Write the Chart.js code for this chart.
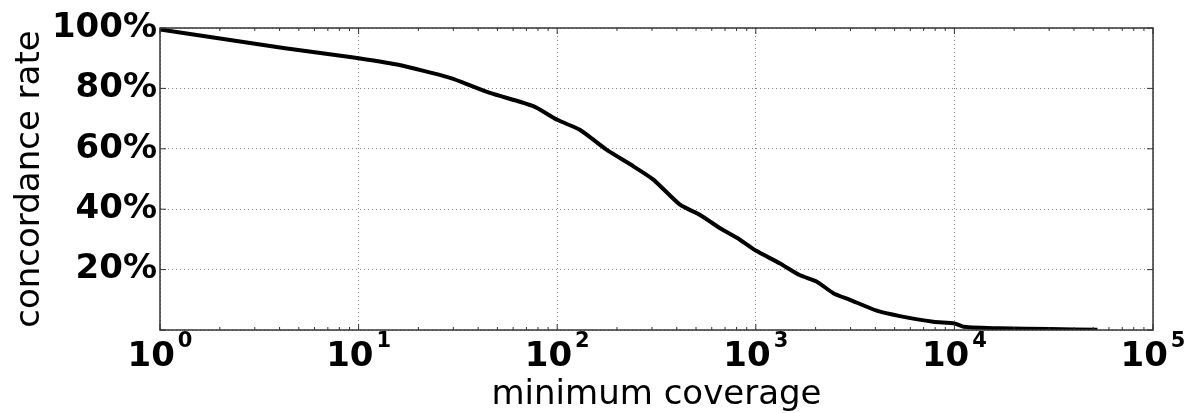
<!DOCTYPE html>
<html>
<head>
<meta charset="utf-8">
<script src="https://cdn.jsdelivr.net/npm/chart.js@4.4.1/dist/chart.umd.min.js"></script>
<style>
  body { margin: 0; background: #fff; }
  #wrap { width: 1196px; height: 413px; }
</style>
</head>
<body>
<div id="wrap"><canvas id="chart" width="1196" height="413"></canvas></div>
<script>
// values
const coverage = [1, 1.93, 4.18, 9.05, 15.6, 28.9, 45.9, 75.8, 100, 130, 177, 242, 305, 415, 524, 661, 832, 1000,
  1318, 1660, 2030, 2455, 2980, 4065, 5320, 7830, 10000, 11100, 17000, 30200, 52500];
const concordance = [99.5, 96.7, 93.4, 90.4, 87.9, 83.5, 78.5, 74.1, 69.6, 66.3, 59.7, 54.2, 49.8, 41.5, 38.1, 33.7, 29.9, 26.3,
  22.1, 18.2, 16.0, 12.2, 10.0, 6.4, 4.6, 2.75, 2.2, 1.1, 0.55, 0.3, 0.1];
const xDecades = [0, 1, 2, 3, 4, 5];
const yTicks = [0, 20, 40, 60, 80, 100];

const FRAME = "#333";
const GRID = "#888";

// frame, inside ticks and 10^n tick labels
const axesPlugin = {
  id: "axesPlugin",
  afterDraw(chart) {
    const ctx = chart.ctx;
    const { left, right, top, bottom } = chart.chartArea;
    const xs = chart.scales.x;
    const ys = chart.scales.y;
    ctx.save();
    ctx.strokeStyle = FRAME;
    ctx.lineWidth = 1.5;
    ctx.strokeRect(left, top, right - left, bottom - top);

    ctx.lineWidth = 1;
    ctx.beginPath();
    xDecades.forEach((k, i) => {
      const base = Math.pow(10, k);
      const px = xs.getPixelForValue(base);
      ctx.moveTo(px, bottom); ctx.lineTo(px, bottom - 6);
      ctx.moveTo(px, top); ctx.lineTo(px, top + 6);
      if (i < xDecades.length - 1) {
        for (let m = 2; m <= 9; m++) {
          const mx = xs.getPixelForValue(m * base);
          ctx.moveTo(mx, bottom); ctx.lineTo(mx, bottom - 3);
          ctx.moveTo(mx, top); ctx.lineTo(mx, top + 3);
        }
      }
    });
    yTicks.forEach((v) => {
      const py = ys.getPixelForValue(v);
      ctx.moveTo(left, py); ctx.lineTo(left + 6, py);
      ctx.moveTo(right, py); ctx.lineTo(right - 6, py);
    });
    ctx.stroke();

    ctx.fillStyle = "#000";
    ctx.textBaseline = "alphabetic";
    ctx.textAlign = "left";
    xDecades.forEach((k) => {
      const px = xs.getPixelForValue(Math.pow(10, k));
      ctx.font = "bold 34px 'DejaVu Sans'";
      const wBase = ctx.measureText("10").width;
      ctx.font = "bold 21px 'DejaVu Sans'";
      const wExp = ctx.measureText(String(k)).width;
      const x0 = px - (wBase + 3 + wExp) / 2;
      ctx.font = "bold 34px 'DejaVu Sans'";
      ctx.fillText("10", x0, 366);
      ctx.font = "bold 21px 'DejaVu Sans'";
      ctx.fillText(String(k), x0 + wBase + 3, 347);
    });
    ctx.restore();
  }
};

new Chart(document.getElementById("chart"), {
  type: "line",
  data: {
    datasets: [{
      data: coverage.map((c, i) => ({ x: c, y: concordance[i] })),
      borderColor: "#000",
      borderWidth: 4,
      borderJoinStyle: "round",
      pointRadius: 0,
      tension: 0.2,
      fill: false
    }]
  },
  options: {
    responsive: false,
    animation: false,
    events: [],
    layout: { padding: { top: 28, right: 43, left: 0, bottom: 0 } },
    plugins: { legend: { display: false }, tooltip: { enabled: false } },
    scales: {
      x: {
        type: "logarithmic",
        min: 1,
        max: 100000,
        afterBuildTicks: (scale) => {
          scale.ticks = xDecades.map((k) => ({ value: Math.pow(10, k) }));
        },
        afterFit: (scale) => { scale.height = 83; },
        ticks: { display: false },
        grid: { color: GRID, lineWidth: 1, drawTicks: false },
        border: { display: false, dash: [1, 3] },
        title: {
          display: true,
          text: "minimum coverage",
          color: "#000",
          font: { family: "'DejaVu Sans'", size: 34, weight: "normal", lineHeight: 1 },
          padding: { top: 0, bottom: 1 }
        }
      },
      y: {
        min: 0,
        max: 100,
        afterBuildTicks: (scale) => {
          scale.ticks = yTicks.map((v) => ({ value: v }));
        },
        afterFit: (scale) => { scale.width = 160; },
        ticks: {
          padding: 3,
          color: "#000",
          font: { family: "'DejaVu Sans'", size: 34, weight: "bold" },
          callback: (v) => (v === 0 ? "" : v + "%")
        },
        grid: { color: GRID, lineWidth: 1, drawTicks: false },
        border: { display: false, dash: [1, 3] },
        title: {
          display: true,
          text: "concordance rate",
          color: "#000",
          font: { family: "'DejaVu Sans'", size: 34, weight: "normal", lineHeight: 1.2 },
          padding: { top: 10, bottom: 0 }
        }
      }
    }
  },
  plugins: [axesPlugin]
});
</script>
</body>
</html>
